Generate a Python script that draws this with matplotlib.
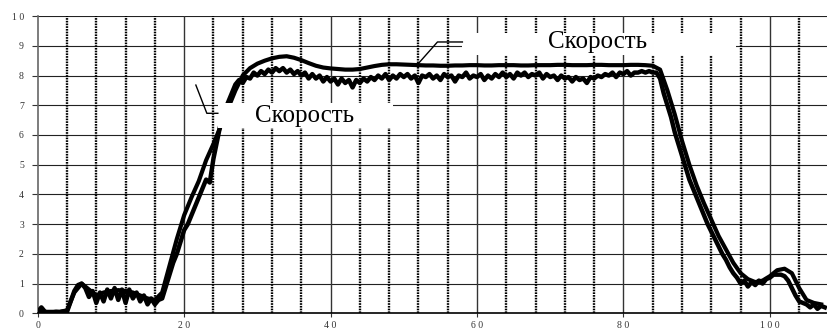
import numpy as np
import matplotlib
matplotlib.use('Agg')
import matplotlib.pyplot as plt
from matplotlib.patches import Rectangle

plt.rcParams['font.family'] = ['Liberation Serif', 'DejaVu Serif']

# smooth speed curve, one value per second
t_smooth = np.arange(0, 108, 1.0)
v_smooth = [0.05, 0.05, 0.05, 0.05, 0.1, 0.7, 1.0, 0.8, 0.6, 0.7,
            0.75, 0.78, 0.75, 0.7, 0.6, 0.5, 0.45, 0.7, 1.6, 2.5,
            3.3, 3.9, 4.45, 5.15, 5.7, 6.3, 6.9, 7.5, 8.0, 8.25,
            8.4, 8.5, 8.58, 8.63, 8.65, 8.6, 8.52, 8.42, 8.33, 8.27,
            8.24, 8.22, 8.2, 8.2, 8.22, 8.27, 8.32, 8.36, 8.38, 8.38,
            8.37, 8.36, 8.35, 8.34, 8.34, 8.33, 8.33, 8.34, 8.34, 8.35,
            8.35, 8.34, 8.34, 8.35, 8.35, 8.35, 8.34, 8.34, 8.35, 8.35,
            8.35, 8.36, 8.36, 8.35, 8.35, 8.35, 8.36, 8.36, 8.35, 8.35,
            8.35, 8.36, 8.36, 8.35, 8.33, 8.2, 7.5, 6.7, 5.8, 5.0,
            4.3, 3.7, 3.15, 2.6, 2.15, 1.7, 1.35, 1.15, 1.05, 1.1,
            1.25, 1.45, 1.5, 1.35, 0.85, 0.45, 0.35, 0.3]

# measured (noisy) speed, every half second
t_noisy = np.arange(0, 108, 0.5)
v_noisy = [0.05, 0.2, 0.05, 0.02, 0.03, 0.05, 0.04, 0.06, 0.05, 0.4,
           0.75, 0.95, 1.0, 0.85, 0.55, 0.75, 0.35, 0.7, 0.4, 0.8,
           0.5, 0.85, 0.45, 0.8, 0.35, 0.8, 0.5, 0.7, 0.4, 0.6,
           0.3, 0.5, 0.3, 0.45, 0.5, 0.9, 1.3, 1.7, 2.0, 2.4,
           2.8, 3.0, 3.3, 3.6, 3.9, 4.2, 4.5, 4.4, 5.2, 5.8,
           6.4, 6.8, 7.1, 7.4, 7.7, 7.85, 7.75, 7.95, 7.9, 8.1,
           8.0, 8.15, 8.05, 8.2, 8.1, 8.25, 8.15, 8.25, 8.1, 8.2,
           8.05, 8.15, 8.0, 8.1, 7.9, 8.05, 7.9, 8.0, 7.8, 7.95,
           7.8, 7.9, 7.7, 7.9, 7.75, 7.85, 7.6, 7.85, 7.75, 7.9,
           7.8, 7.95, 7.85, 8.0, 7.9, 8.05, 7.85, 8.0, 7.9, 8.05,
           7.95, 8.05, 7.9, 8.0, 7.75, 8.0, 7.95, 8.05, 7.9, 8.0,
           7.85, 8.05, 7.95, 8.0, 7.8, 8.0, 7.95, 8.1, 7.9, 8.0,
           7.95, 8.05, 7.85, 8.0, 7.9, 8.05, 7.95, 8.1, 7.95, 8.05,
           7.9, 8.1, 8.0, 8.1, 7.95, 8.05, 8.0, 8.1, 7.9, 8.05,
           7.95, 8.0, 7.85, 8.0, 7.9, 7.95, 7.8, 7.95, 7.85, 7.9,
           7.75, 7.95, 7.9, 8.0, 7.95, 8.05, 8.0, 8.1, 7.95, 8.1,
           8.05, 8.15, 8.0, 8.1, 8.1, 8.15, 8.1, 8.15, 8.1, 8.1,
           7.9, 7.4, 7.0, 6.6, 6.1, 5.7, 5.3, 4.9, 4.5, 4.2,
           3.9, 3.6, 3.3, 3.0, 2.75, 2.5, 2.25, 2.0, 1.8, 1.55,
           1.35, 1.2, 1.0, 1.1, 0.9, 1.05, 0.95, 1.1, 1.0, 1.15,
           1.2, 1.3, 1.3, 1.3, 1.25, 1.1, 0.85, 0.6, 0.4, 0.35,
           0.3, 0.2, 0.3, 0.15, 0.25, 0.2]

x_ticks = [0, 20, 40, 60, 80, 100]
x_labels = ["0", "2 0", "4 0", "6 0", "8 0", "1 0 0"]
y_ticks = list(range(0, 11))
y_labels = ["0", "1", "2", "3", "4", "5", "6", "7", "8", "9", "1 0"]
label_text = "Скорость"

fig = plt.figure(figsize=(8.27, 3.29), dpi=100)
ax = fig.add_axes([0.0456, 0.0477, 0.9544, 0.9033])
ax.set_xlim(0, 107.8)
ax.set_ylim(0, 10)

# grid
for y in range(1, 11):
    ax.axhline(y, color='#222222', lw=0.8, zorder=1)
for x in np.arange(4, 108, 4):
    if x % 20 == 0:
        ax.axvline(x, color='#333333', lw=1.0, zorder=1)
    else:
        ax.axvline(x, color='black', lw=1.7, ls=(0, (0.7, 0.45)), zorder=1)

ax.plot(t_smooth, v_smooth, color='black', lw=3.0, zorder=3)
ax.plot(t_noisy, v_noisy, color='black', lw=3.2, zorder=3)

# white label boxes on top of curves
ax.add_patch(Rectangle((58.0, 8.69), 37.4, 0.74, facecolor='white',
                       edgecolor='none', zorder=4))
ax.add_patch(Rectangle((24.6, 6.23), 23.9, 0.84, facecolor='white',
                       edgecolor='none', zorder=4))
ax.text(76.4, 9.12, label_text, fontsize=18, ha='center', va='center', zorder=5)
ax.text(36.4, 6.64, label_text, fontsize=18, ha='center', va='center', zorder=5)
ax.plot([51.9, 54.6, 58.0], [8.38, 9.13, 9.13], color='black', lw=1.0, zorder=5)
ax.plot([21.6, 23.1, 24.6], [7.68, 6.73, 6.73], color='black', lw=1.0, zorder=5)

ax.set_xticks(x_ticks)
ax.set_xticklabels(x_labels)
ax.set_yticks(y_ticks)
ax.set_yticklabels(y_labels)
for lab in ax.get_xticklabels() + ax.get_yticklabels():
    lab.set_fontsize(7)
    lab.set_color('#333333')
ax.tick_params(axis='y', length=4, width=0.8, pad=6, color='#333333')
ax.tick_params(axis='x', length=3, width=0.8, pad=2.5, color='#333333')

ax.spines['top'].set_visible(False)
ax.spines['right'].set_visible(False)
ax.spines['left'].set_color('#666666')
ax.spines['left'].set_linewidth(1.2)
ax.spines['bottom'].set_color('black')
ax.spines['bottom'].set_linewidth(1.2)

fig.savefig('out.png', dpi=100)
